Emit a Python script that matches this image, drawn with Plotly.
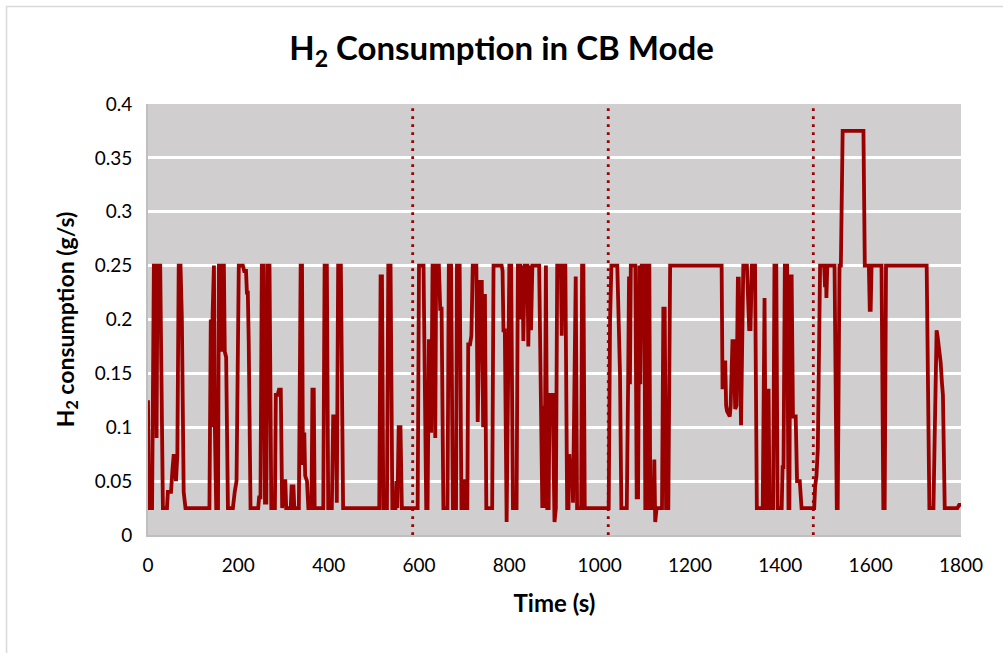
import plotly.graph_objects as go

# Time (s) breakpoints and H2 consumption (g/s)
time_s = [
    0, 2, 9, 13, 17, 19, 21, 27, 33, 42, 44, 51, 54, 57, 62, 65, 68, 72, 75, 79, 83,
    136, 139, 141, 143, 146, 148, 151, 155, 157, 161, 163, 165, 168, 170, 173, 177,
    188, 192, 196, 201, 210, 213, 217, 219, 221, 223, 227, 244, 246, 249, 252, 256,
    259, 262, 265, 269, 273, 281, 283, 287, 290, 294, 297, 300, 304, 306, 316, 318,
    322, 324, 334, 338, 341, 343, 346, 348, 352, 355, 362, 364, 367, 369, 388, 391,
    396, 399, 407, 410, 416, 418, 421, 427, 432, 512, 515, 518, 521, 529, 532, 537,
    541, 548, 550, 552, 555, 559, 562, 597,
    600, 610, 616, 619, 622, 625, 627, 630, 634, 636, 638, 644, 647, 650, 654, 663,
    666, 671, 675, 682, 684, 690, 692, 694, 697, 699, 702, 704, 707, 709, 713, 716,
    719, 727, 730, 735, 739, 742, 744, 746, 749, 762, 765, 783, 785, 787, 790, 794,
    800, 804, 808, 816, 819, 824, 826, 829, 831, 834, 840, 842, 845, 848, 851, 866,
    873, 876, 878, 881, 884, 887, 889, 896, 900, 903, 906, 914, 916, 918, 924, 928,
    931, 933, 936, 939, 941, 945, 947, 950, 959, 961, 964, 967, 1020,
    1023, 1026, 1039, 1043, 1045, 1048, 1060, 1063, 1065, 1067, 1069, 1079, 1082,
    1085, 1088, 1090, 1093, 1099, 1101, 1104, 1106, 1110, 1112, 1119, 1121, 1123,
    1126, 1138, 1141, 1144, 1147, 1152, 1156, 1270,
    1272, 1275, 1276, 1278, 1280, 1282, 1288, 1290, 1294, 1297, 1300, 1303, 1306,
    1308, 1313, 1318, 1326, 1331, 1334, 1337, 1344, 1348, 1361, 1363, 1365, 1368,
    1370, 1372, 1374, 1376, 1384, 1387, 1391, 1394, 1403, 1405, 1407, 1410, 1415,
    1418, 1420, 1422, 1425, 1428, 1434, 1437, 1443, 1447, 1475,
    1477, 1480, 1483, 1488, 1497, 1499, 1501, 1502, 1504, 1520, 1525, 1527, 1531,
    1534, 1538, 1584, 1587, 1596, 1598, 1600, 1602, 1624, 1628, 1631, 1634, 1724,
    1730, 1739, 1741, 1743, 1746, 1748, 1752, 1755, 1758, 1760, 1764, 1792, 1796, 1800,
]
h2_gs = [
    0.125, 0.025, 0.025, 0.25, 0.25, 0.09, 0.25, 0.25, 0.025, 0.025, 0.04, 0.04, 0.06, 0.075, 0.05, 0.075, 0.25, 0.25, 0.2, 0.04, 0.025,
    0.025, 0.2, 0.1, 0.205, 0.25, 0.1, 0.025, 0.025, 0.25, 0.25, 0.17, 0.25, 0.25, 0.17, 0.165, 0.025,
    0.025, 0.04, 0.05, 0.25, 0.25, 0.245, 0.245, 0.225, 0.225, 0.18, 0.025, 0.025, 0.035, 0.035, 0.25, 0.25,
    0.03, 0.03, 0.25, 0.25, 0.025, 0.025, 0.13, 0.13, 0.135, 0.135, 0.025, 0.05, 0.05, 0.025, 0.025, 0.045,
    0.045, 0.025, 0.025, 0.25, 0.25, 0.065, 0.095, 0.055, 0.05, 0.025, 0.025, 0.135, 0.135, 0.025, 0.025, 0.25,
    0.25, 0.025, 0.025, 0.11, 0.11, 0.03, 0.25, 0.25, 0.025, 0.025, 0.24, 0.24, 0.025, 0.025, 0.25, 0.25,
    0.025, 0.025, 0.05, 0.025, 0.1, 0.1, 0.025, 0.025,
    0.25, 0.25, 0.025, 0.025, 0.18, 0.18, 0.095, 0.25, 0.25, 0.09, 0.25, 0.25, 0.21, 0.21, 0.025, 0.025,
    0.25, 0.25, 0.025, 0.025, 0.25, 0.25, 0.15, 0.025, 0.025, 0.05, 0.05, 0.025, 0.025, 0.177, 0.177, 0.185,
    0.25, 0.25, 0.105, 0.235, 0.235, 0.1, 0.222, 0.222, 0.025, 0.025, 0.25, 0.25, 0.245, 0.19, 0.19, 0.012,
    0.25, 0.25, 0.025, 0.025, 0.25, 0.25, 0.2, 0.25, 0.18, 0.25, 0.25, 0.175, 0.25, 0.19, 0.25, 0.25,
    0.025, 0.12, 0.025, 0.25, 0.025, 0.025, 0.13, 0.13, 0.012, 0.025, 0.25, 0.25, 0.185, 0.25, 0.25, 0.025,
    0.025, 0.075, 0.045, 0.07, 0.03, 0.24, 0.24, 0.025, 0.025, 0.25, 0.25, 0.025, 0.025,
    0.2, 0.25, 0.25, 0.155, 0.15, 0.025, 0.025, 0.14, 0.24, 0.14, 0.25, 0.25, 0.035,
    0.035, 0.25, 0.14, 0.25, 0.25, 0.025, 0.025, 0.25, 0.25, 0.025, 0.025, 0.07, 0.012,
    0.025, 0.025, 0.21, 0.21, 0.025, 0.025, 0.25, 0.25,
    0.137, 0.137, 0.162, 0.162, 0.12, 0.115, 0.11, 0.12, 0.18, 0.18, 0.117, 0.12, 0.238,
    0.238, 0.102, 0.25, 0.25, 0.191, 0.191, 0.25, 0.25, 0.025, 0.025, 0.22, 0.22, 0.025,
    0.025, 0.134, 0.134, 0.025, 0.025, 0.25, 0.25, 0.025, 0.025, 0.063, 0.063, 0.25, 0.25,
    0.025, 0.025, 0.24, 0.24, 0.11, 0.11, 0.05, 0.05, 0.025, 0.025,
    0.045, 0.055, 0.08, 0.25, 0.25, 0.23, 0.25, 0.22, 0.25, 0.25, 0.025, 0.025, 0.25,
    0.25, 0.375, 0.375, 0.25, 0.25, 0.209, 0.209, 0.25, 0.25, 0.025, 0.025, 0.25, 0.25,
    0.025, 0.025, 0.073, 0.11, 0.19, 0.185, 0.17, 0.16, 0.14, 0.13, 0.025, 0.025, 0.028, 0.028,
]

# Mode-change markers (s)
mode_changes_s = [586, 1019, 1473]

x_ticks = [0, 200, 400, 600, 800, 1000, 1200, 1400, 1600, 1800]
y_ticks = [0, 0.05, 0.1, 0.15, 0.2, 0.25, 0.3, 0.35, 0.4]
y_tick_text = ["0", "0.05", "0.1", "0.15", "0.2", "0.25", "0.3", "0.35", "0.4"]

LINE = "#9a0000"
FONT = "Lato"

fig = go.Figure()
fig.add_trace(go.Scatter(
    x=time_s, y=h2_gs, mode="lines",
    line=dict(color=LINE, width=3.8),
    showlegend=False, hoverinfo="skip",
))

for xc in mode_changes_s:
    fig.add_shape(type="line", xref="x", yref="y", x0=xc, x1=xc, y0=0, y1=0.4,
                  line=dict(color=LINE, width=2.8, dash="2.8px,5.2px"), layer="above")

# outer chart border
fig.add_shape(type="rect", xref="paper", yref="paper",
              x0=-0.174, x1=1.2, y0=-0.5, y1=1.226,
              line=dict(color="#d9d9d9", width=1.5), fillcolor="rgba(0,0,0,0)", layer="below")

fig.update_layout(
    width=1003, height=653,
    margin=dict(l=148, r=42, t=104, b=118),
    paper_bgcolor="white", plot_bgcolor="#d0cece",
    font=dict(family=FONT, size=19, color="black"),
    title=dict(text="<b>H<sub>2</sub> Consumption in CB Mode</b>",
               x=0.5, xanchor="center", y=0.926, yanchor="middle",
               font=dict(family=FONT, size=33, color="black")),
    xaxis=dict(range=[0, 1800], tickvals=x_ticks, showgrid=False, zeroline=False,
               showline=True, linecolor="#bfbfbf", linewidth=2, ticks="",
               ticklabelstandoff=12,
               title=dict(text="<b>Time (s)</b>", font=dict(size=24), standoff=20)),
    yaxis=dict(range=[0, 0.4], tickvals=y_ticks, ticktext=y_tick_text,
               showgrid=True, gridcolor="white", gridwidth=3, zeroline=False,
               showline=True, linecolor="#bfbfbf", linewidth=2, ticks="",
               ticklabelstandoff=10,
               title=dict(text="<b>H<sub>2</sub> consumption (g/s)</b>", font=dict(size=23), standoff=14)),
)

fig.write_html("out.html")
